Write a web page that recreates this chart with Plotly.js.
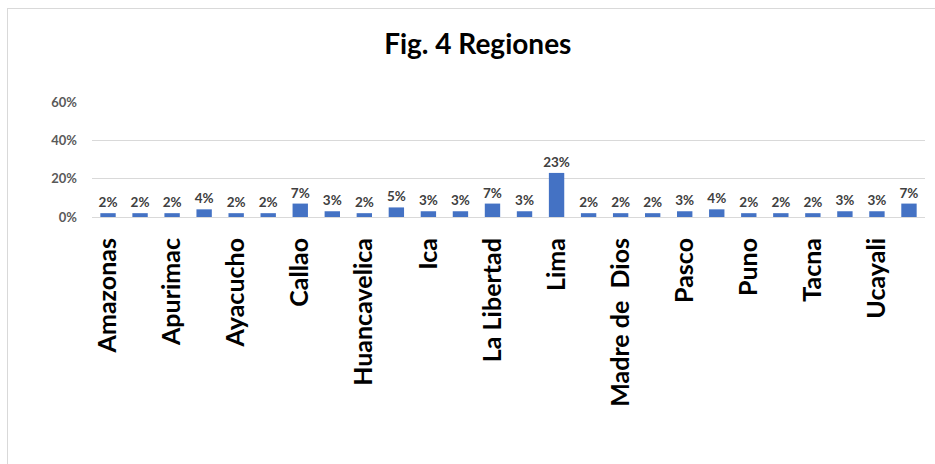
<!DOCTYPE html>
<html>
<head>
<meta charset="utf-8">
<script src="https://cdn.plot.ly/plotly-3.0.1.min.js"></script>
<style>
  html, body { margin: 0; padding: 0; background: #ffffff; }
  #wrap { position: relative; width: 935px; height: 464px; overflow: hidden; }
  #frame { position: absolute; left: 7px; top: 8px; width: 1000px; height: 600px;
           border: 1px solid #d9d9d9; box-sizing: border-box; }
  #chart { position: absolute; left: 0; top: 0; width: 935px; height: 464px; }
</style>
</head>
<body>
<div id="wrap">
  <div id="frame"></div>
  <div id="chart"></div>
</div>
<script>
// Regions in alphabetical order
const regions = [
  "Amazonas", "Ancash", "Apurimac", "Arequipa", "Ayacucho", "Cajamarca",
  "Callao", "Cusco", "Huancavelica", "Huanuco", "Ica", "Junin",
  "La Libertad", "Lambayeque", "Lima", "Loreto", "Madre de  Dios", "Moquegua",
  "Pasco", "Piura", "Puno", "San Martin", "Tacna", "Tumbes", "Ucayali", "Otros"
];

// Share of each region (fraction)
const shares = [
  0.02, 0.02, 0.02, 0.04, 0.02, 0.02,
  0.07, 0.03, 0.02, 0.05, 0.03, 0.03,
  0.07, 0.03, 0.23, 0.02, 0.02, 0.02,
  0.03, 0.04, 0.02, 0.02, 0.02, 0.03, 0.03, 0.07
];

// Only every other category is labelled on the axis
const shownTicks = regions.filter((_, i) => i % 2 === 0);

const yTickVals = [0, 0.2, 0.4, 0.6];
const yTickText = ["0%", "20%", "40%", "60%"];

const FONT = "Lato, 'Open Sans', sans-serif";

const trace = {
  type: "bar",
  x: regions,
  y: shares,
  marker: { color: "#4472c4" },
  text: shares.map(v => Math.round(v * 100) + "%"),
  textposition: "outside",
  constraintext: "none",
  textfont: { family: FONT, size: 13.5, color: "#404040", weight: "bold" },
  cliponaxis: false,
  hoverinfo: "skip"
};

const layout = {
  width: 935,
  height: 464,
  paper_bgcolor: "rgba(0,0,0,0)",
  plot_bgcolor: "rgba(0,0,0,0)",
  margin: { l: 91.5, r: 10, t: 101.7, b: 247.3 },
  showlegend: false,
  bargap: 0.52,
  title: {
    text: "Fig. 4 Regiones",
    font: { family: FONT, size: 28, color: "#000000", weight: "bold" },
    x: 0.511, xref: "container", xanchor: "center",
    y: 0.905, yref: "container", yanchor: "middle"
  },
  xaxis: {
    type: "category",
    tickvals: shownTicks,
    ticktext: shownTicks,
    tickangle: -90,
    tickfont: { family: FONT, size: 25, color: "#000000", weight: "bold" },
    ticks: "",
    ticklabelstandoff: 10,
    showgrid: false,
    showline: true,
    linecolor: "#d9d9d9",
    linewidth: 1,
    zeroline: false
  },
  yaxis: {
    range: [0, 0.6],
    tickvals: yTickVals,
    ticktext: yTickText,
    tickfont: { family: FONT, size: 13, color: "#595959", weight: "bold" },
    ticks: "",
    ticklabelstandoff: 14,
    showgrid: true,
    gridcolor: "#d9d9d9",
    gridwidth: 1,
    zeroline: false,
    showline: false
  }
};

Plotly.newPlot("chart", [trace], layout, { displayModeBar: false, staticPlot: true });
</script>
</body>
</html>
